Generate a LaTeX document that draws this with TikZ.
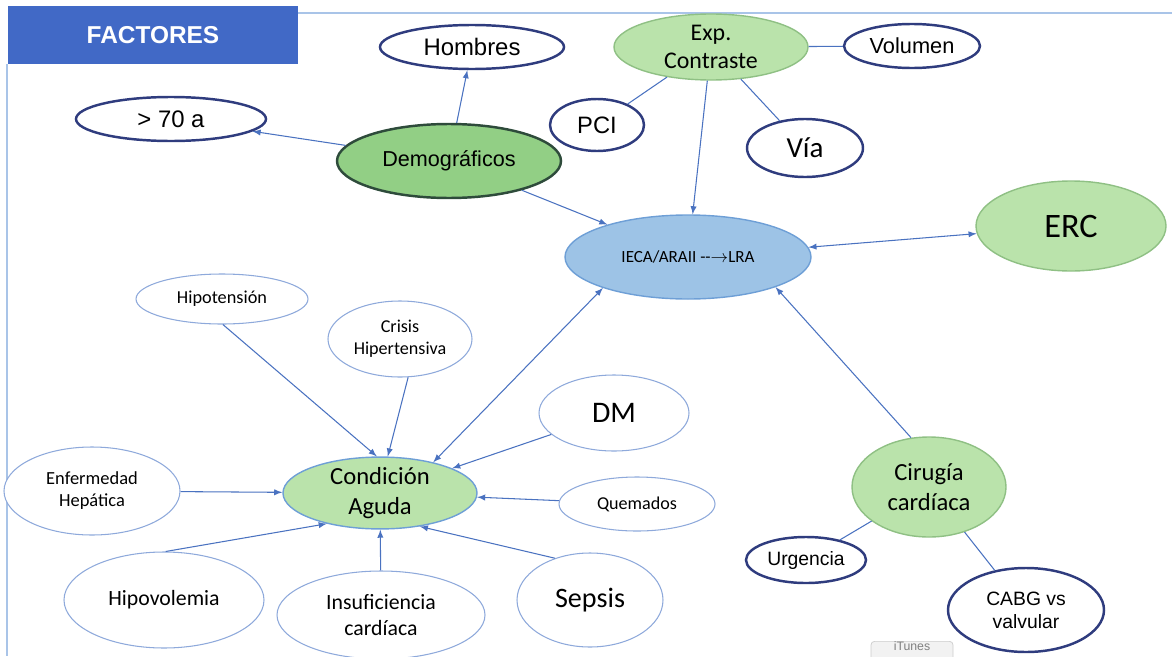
\documentclass[tikz,border=0pt]{standalone}
\usepackage{fontspec}
\setmainfont{Liberation Sans}
\newfontfamily\calfont{Carlito}
\usepackage{tikz}
\usetikzlibrary{arrows,shapes,positioning,calc}

\definecolor{navy}{HTML}{2F3C7E}
\definecolor{paleline}{HTML}{8EA9DB}
\definecolor{linkblue}{HTML}{4A72C0}
\definecolor{greenfill}{HTML}{BAE3AB}
\definecolor{greenedge}{HTML}{8FC084}
\definecolor{demofill}{HTML}{92CF85}
\definecolor{demoedge}{HTML}{2E4B3B}
\definecolor{ecafill}{HTML}{9DC3E6}
\definecolor{ecaedge}{HTML}{6E9FD6}
\definecolor{titlefill}{HTML}{4169C6}
\definecolor{framecol}{HTML}{A9C4E8}

\tikzset{
  oval/.style 2 args={ellipse,inner sep=0pt,align=center,minimum width=#1*0.2mm,minimum height=#2*0.2mm},
  darkoval/.style={draw=navy,line width=1.4pt,fill=white},
  paleoval/.style={draw=paleline,line width=0.6pt,fill=white},
  greenoval/.style={draw=greenedge,line width=0.8pt,fill=greenfill},
  link/.style={draw=linkblue,line width=0.6pt},
}
\newcommand{\fsz}[1]{\fontsize{#1}{1.2\dimexpr#1pt\relax}\selectfont}

\begin{document}
\begin{tikzpicture}[x=0.2mm,y=-0.2mm,>=latex]
\useasboundingbox (0,0) rectangle (1172,656);
%%% frame and title
\draw[framecol,line width=1.2pt] (298,13) -- (1172,13);
\draw[framecol,line width=1.2pt] (7,64) -- (7,656);
\node[fill=titlefill,minimum width=290*0.2mm,minimum height=58*0.2mm,inner sep=0pt,
  text=white,font=\bfseries\fsz{13.9}] (title) at (153,35) {FACTORES};
%%% demographic factors
\node[oval={184}{44},darkoval,font=\fsz{13.6}] (hombres) at (472,47) {Hombres};
\node[oval={190}{44},darkoval,font=\fsz{13.6}] (edad) at (171,119) {> 70 a};
\node[oval={224}{74},draw=demoedge,line width=1.4pt,fill=demofill,font=\fsz{12.3}] (demo) at (449,161) {Demográficos};
%%% contrast
\node[oval={194}{66},greenoval,font=\calfont\fsz{13.6}] (contraste) at (711,47) {Exp.\\Contraste};
\node[oval={136}{44},darkoval,font=\fsz{12.4}] (volumen) at (912,46) {Volumen};
\node[oval={94}{52},darkoval,font=\fsz{13.5}] (pci) at (597,125) {PCI};
\node[oval={116}{58},darkoval,font=\calfont\fsz{16.5}] (via) at (805,148) {Vía};
%%% center and ERC
\node[oval={246}{84},draw=ecaedge,line width=0.8pt,fill=ecafill,font=\calfont\fsz{9.7}] (ieca) at (688,257) {IECA/ARAII -{}-$\rightarrow$LRA};
\node[oval={190}{90},greenoval,font=\calfont\fsz{19.5}] (erc) at (1071,226) {ERC};
%%% acute conditions
\node[oval={194}{66},draw=ecaedge,line width=0.8pt,fill=greenfill,font=\calfont\fsz{14}] (aguda) at (380,493) {Condición\\Aguda};
\node[oval={172}{50},paleoval,font=\calfont\fsz{10.4}] (hipotension) at (222,299) {Hipotensión};
\node[oval={144}{76},paleoval,font=\calfont\fsz{10.3}] (crisis) at (400,339) {Crisis\\Hipertensiva};
\node[oval={150}{76},paleoval,font=\calfont\fsz{17}] (dm) at (614,413) {DM};
\node[oval={176}{88},paleoval,font=\calfont\fsz{10.5}] (hepatica) at (92,491) {Enfermedad\\Hepática};
\node[oval={156}{54},paleoval,font=\calfont\fsz{10.3}] (quemados) at (637,504) {Quemados};
\node[oval={200}{96},paleoval,font=\calfont\fsz{12.4}] (hipovolemia) at (164,600) {Hipovolemia};
\node[oval={208}{88},paleoval,font=\calfont\fsz{12.4}] (insuficiencia) at (381,615) {Insuficiencia\\cardíaca};
\node[oval={146}{94},paleoval,font=\calfont\fsz{16}] (sepsis) at (590,600) {Sepsis};
%%% cardiac surgery
\node[oval={154}{100},greenoval,font=\calfont\fsz{14}] (cirugia) at (929,487) {Cirugía\\cardíaca};
\node[oval={120}{46},darkoval,font=\fsz{11}] (urgencia) at (806,560) {Urgencia};
\node[oval={156}{84},darkoval,font=\fsz{11}] (cabg) at (1026,610) {CABG vs\\valvular};
%%% screen button
\node[draw=gray!40,fill=gray!10,rounded corners=2pt,minimum width=82*0.2mm,minimum height=24*0.2mm,
  inner sep=0pt,anchor=north,text=gray,font=\fsz{7}] (itunes) at (912,641) {};
\node[text=gray,font=\fsz{7},inner sep=0pt,anchor=north] (itunestext) at (itunes.north) {iTunes};

%%% connectors
\draw[link,->] (demo) -- (edad);
\draw[link,->] (demo) -- (hombres);
\draw[link,->] (demo) -- (ieca);
\draw[link,->] (contraste) -- (ieca);
\draw[link] (contraste) -- (pci);
\draw[link] (contraste) -- (via);
\draw[link] (contraste) -- (volumen);
\draw[link,<->] (ieca) -- (erc);
\draw[link,->] (cirugia.110) -- (ieca.-19);
\draw[link,<->] (aguda.30) -- (ieca.-160);
\draw[link,->] (hipotension.-88) -- (aguda.95);
\draw[link,->] (crisis.-78) -- (aguda.78);
\draw[link,->] (dm) -- (aguda);
\draw[link,->] (hepatica) -- (aguda);
\draw[link,->] (quemados) -- (aguda);
\draw[link,->] (hipovolemia.88) -- (aguda.-150);
\draw[link,->] (insuficiencia) -- (aguda);
\draw[link,->] (sepsis.130) -- (aguda.-40);
\draw[link] (cirugia) -- (urgencia);
\draw[link] (cirugia) -- (cabg);
\end{tikzpicture}
\end{document}
